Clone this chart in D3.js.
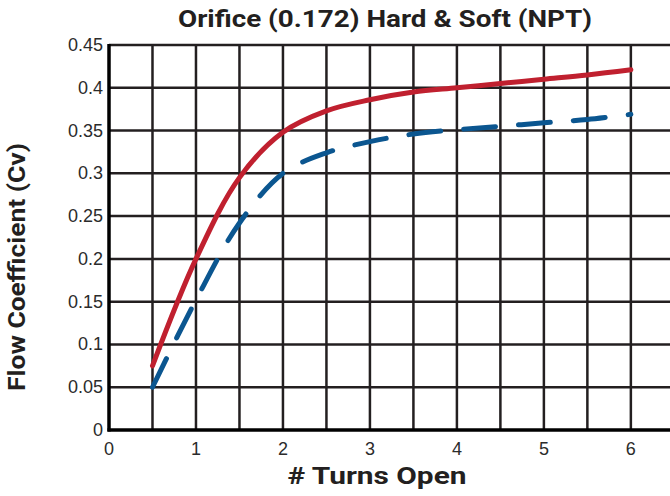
<!DOCTYPE html>
<html>
<head>
<meta charset="utf-8">
<script src="https://cdn.jsdelivr.net/npm/d3@7"></script>
<style>
  body { margin: 0; background: #fff; }
  svg { display: block; }
  .tick-label { font-family: "Liberation Sans", Arial, sans-serif; font-size: 18px; fill: #2b2b2b; }
  .title { font-family: Roboto, "DejaVu Sans", sans-serif; font-weight: bold; fill: #231f20; }
</style>
</head>
<body>
<svg id="chart" width="670" height="496"></svg>
<script>
// chart data
const turns = [0.5, 1, 1.5, 2, 2.5, 3, 3.5, 4, 4.5, 5, 5.5, 6];
const hardCv = [0.075, 0.2, 0.295, 0.348, 0.373, 0.386, 0.395, 0.4, 0.405, 0.41, 0.415, 0.421];
const softCv = [0.05, 0.152, 0.242, 0.3, 0.324, 0.337, 0.346, 0.351, 0.355, 0.359, 0.363, 0.369];
const xTicks = [0, 1, 2, 3, 4, 5, 6];
const yTicks = [0, 0.05, 0.1, 0.15, 0.2, 0.25, 0.3, 0.35, 0.4, 0.45];

const w = 670, h = 496;
const margin = {top: 45, right: 0, bottom: 66, left: 109};

const svg = d3.select("#chart");

const x = d3.scaleLinear()
  .domain([0, 6.45])
  .range([margin.left, w - margin.right]);
const y = d3.scaleLinear()
  .domain([0, 0.45])
  .range([h - margin.bottom, margin.top]);

// grid
const grid = svg.append("g")
  .attr("stroke", "#231f20")
  .attr("stroke-width", 2.5);

grid.selectAll("line.v")
  .data(d3.range(0.5, 6.01, 0.5))
  .join("line")
  .attr("class", "v")
  .attr("x1", d => x(d)).attr("x2", d => x(d))
  .attr("y1", y(0.45)).attr("y2", y(0));

grid.selectAll("line.h")
  .data(yTicks.slice(1))
  .join("line")
  .attr("class", "h")
  .attr("x1", x(0)).attr("x2", w)
  .attr("y1", d => y(d)).attr("y2", d => y(d));

// axis lines
svg.append("line")
  .attr("x1", x(0)).attr("x2", x(0))
  .attr("y1", y(0.45) - 1).attr("y2", y(0) + 1.5)
  .attr("stroke", "#000").attr("stroke-width", 3.5);
svg.append("line")
  .attr("x1", x(0) - 1.5).attr("x2", w)
  .attr("y1", y(0)).attr("y2", y(0))
  .attr("stroke", "#000").attr("stroke-width", 3.5);

// tick labels
svg.append("g").selectAll("text")
  .data(yTicks)
  .join("text")
  .attr("class", "tick-label")
  .attr("x", x(0) - 6)
  .attr("y", d => y(d) + 6)
  .attr("text-anchor", "end")
  .text(d => d);

svg.append("g").selectAll("text")
  .data(xTicks)
  .join("text")
  .attr("class", "tick-label")
  .attr("x", d => x(d))
  .attr("y", y(0) + 25)
  .attr("text-anchor", "middle")
  .text(d => d);

// series
const line = d3.line()
  .x(d => x(d[0]))
  .y(d => y(d[1]))
  .curve(d3.curveCatmullRom.alpha(0.5));

svg.append("path")
  .datum(d3.zip(turns, softCv))
  .attr("d", line)
  .attr("fill", "none")
  .attr("stroke", "#0b5690")
  .attr("stroke-width", 5)
  .attr("stroke-linecap", "round")
  .attr("stroke-dasharray", "32,23");

svg.append("path")
  .datum(d3.zip(turns, hardCv))
  .attr("d", line)
  .attr("fill", "none")
  .attr("stroke", "#c0202f")
  .attr("stroke-width", 5)
  .attr("stroke-linecap", "round");

// titles
svg.append("text")
  .attr("class", "title")
  .attr("x", 385)
  .attr("y", 27)
  .attr("text-anchor", "middle")
  .attr("font-size", 24)
  .attr("textLength", 414)
  .attr("lengthAdjust", "spacingAndGlyphs")
  .text("Orifice (0.172) Hard & Soft (NPT)");

svg.append("text")
  .attr("class", "title")
  .attr("x", 377)
  .attr("y", 484)
  .attr("text-anchor", "middle")
  .attr("font-size", 24)
  .attr("textLength", 179)
  .attr("lengthAdjust", "spacingAndGlyphs")
  .text("# Turns Open");

svg.append("text")
  .attr("class", "title")
  .attr("transform", "translate(25,267) rotate(-90)")
  .attr("text-anchor", "middle")
  .attr("font-size", 24)
  .attr("textLength", 248)
  .attr("lengthAdjust", "spacingAndGlyphs")
  .text("Flow Coefficient (Cv)");
</script>
</body>
</html>
